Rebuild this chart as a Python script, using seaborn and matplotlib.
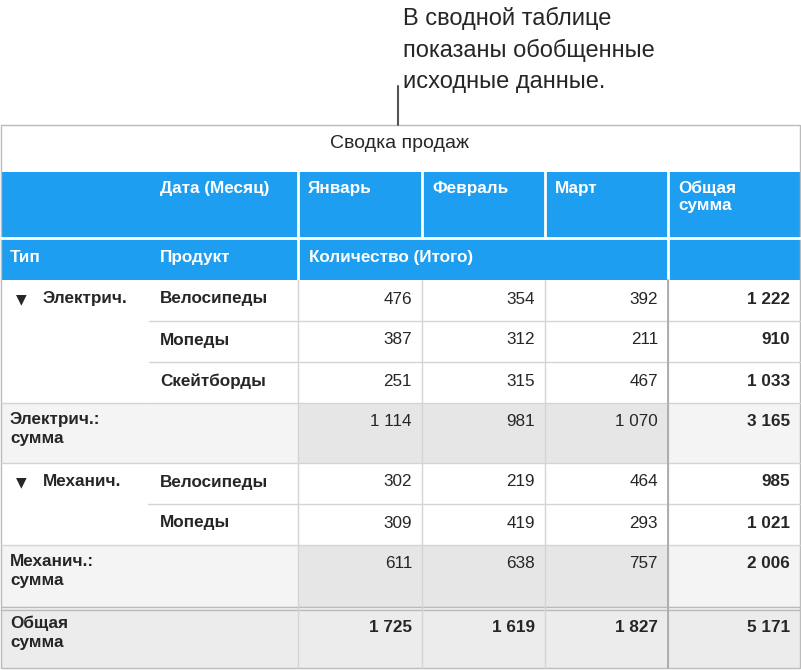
import matplotlib.pyplot as plt
import matplotlib.patches as patches
import seaborn as sns

sns.set_theme(style="white")
plt.rcParams['font.family'] = ['Liberation Sans', 'DejaVu Sans']

# Data
title = "Сводка продаж"
caption = ["В сводной таблице", "показаны обобщенные", "исходные данные."]
months = ["Январь", "Февраль", "Март"]
total_label = "Общая\nсумма"
elec_products = ["Велосипеды", "Мопеды", "Скейтборды"]
elec_values = [[476, 354, 392], [387, 312, 211], [251, 315, 467]]
elec_totals = [1222, 910, 1033]
elec_sum = [1114, 981, 1070]
elec_sum_total = 3165
mech_products = ["Велосипеды", "Мопеды"]
mech_values = [[302, 219, 464], [309, 419, 293]]
mech_totals = [985, 1021]
mech_sum = [611, 638, 757]
mech_sum_total = 2006
grand = [1725, 1619, 1827]
grand_total = 5171

def fmt(v):
    return f"{v:,}".replace(",", "\u00a0")

blue = "#1e9ef0"
grid = "#d4d4d4"
light = "#f4f4f4"
mid = "#e6e6e6"
fs = 12.3

fig = plt.figure(figsize=(8.01, 6.70), dpi=100)
ax = fig.add_axes([0, 0, 1, 1])
ax.set_xlim(0, 801)
ax.set_ylim(670, 0)
ax.axis("off")

cols = [1, 148, 298, 422, 545, 668, 800]

def rect(x0, y0, x1, y1, color):
    ax.add_patch(patches.Rectangle((x0, y0), x1 - x0, y1 - y0, facecolor=color, edgecolor="none"))

def hline(y, x0=1, x1=800, c=grid, lw=1):
    ax.plot([x0, x1], [y, y], color=c, lw=lw)

def vline(x, y0, y1, c=grid, lw=1):
    ax.plot([x, x], [y0, y1], color=c, lw=lw)

# caption + leader
for i, line in enumerate(caption):
    ax.text(403, 18 + 32 * i, line, fontsize=17, va="center", ha="left")
vline(398, 86, 125, c="#555555", lw=1.5)

# title
ax.text(400, 143, title, fontsize=14, ha="center", va="center")

# header
rect(1, 172, 800, 280, blue)
for x in cols[2:6]:
    vline(x, 172, 238, c="white", lw=2)
hline(238, c="white", lw=2)
vline(298, 238, 280, c="white", lw=2)
vline(668, 238, 280, c="white", lw=2)
hw = dict(color="white", fontsize=fs, fontweight="bold", va="top")
ax.text(160, 181, "Дата (Месяц)", **hw)
for i, m in enumerate(months):
    ax.text(cols[2 + i] + 10, 181, m, **hw)
ax.text(678, 181, "Общая\nсумма", linespacing=1.15, **hw)
ax.text(10, 250, "Тип", **hw)
ax.text(160, 250, "Продукт", **hw)
ax.text(309, 250, "Количество (Итого)", **hw)

def num_row(y0, y1, vals, tot, bold=False):
    for i, v in enumerate(vals):
        ax.text(cols[3 + i] - 10, y0 + 19, fmt(v), fontsize=fs, ha="right", va="center",
                fontweight="bold" if bold else "normal")
    ax.text(790, y0 + 19, fmt(tot), fontsize=fs, ha="right", va="center", fontweight="bold")

def group(y, name, products, values, totals, sums, sum_total, heights, sum_h):
    ys = y
    for j, (p, v, t) in enumerate(zip(products, values, totals)):
        y1 = ys + heights
        ax.text(160, ys + 19, p, fontsize=fs, fontweight="bold", va="center")
        num_row(ys, y1, v, t)
        if j > 0:
            hline(ys, 148, 800)
        ys = y1
    ax.text(16, y + 19, "▼", fontsize=10, va="center", family="DejaVu Sans")
    ax.text(43, y + 19, name, fontsize=fs, fontweight="bold", va="center")
    rect(1, ys, 298, ys + sum_h, light)
    rect(298, ys, 668, ys + sum_h, mid)
    rect(668, ys, 800, ys + sum_h, light)
    hline(ys)
    ax.text(10, ys + 9, name + ":\nсумма", fontsize=fs, fontweight="bold", va="top", linespacing=1.3)
    num_row(ys, ys + sum_h, sums, sum_total)
    hline(ys + sum_h)
    return ys + sum_h

y = group(280, "Электрич.", elec_products, elec_values, elec_totals, elec_sum, elec_sum_total, 41, 60)
y = group(y, "Механич.", mech_products, mech_values, mech_totals, mech_sum, mech_sum_total, 41, 62)

# grand total
rect(1, y + 2, 800, 668, "#ececec")
hline(y, c="#bbbbbb")
hline(y + 3, c="#bbbbbb")
ax.text(10, y + 9, total_label, fontsize=fs, fontweight="bold", va="top", linespacing=1.3)
num_row(y + 2, 668, grand, grand_total, bold=True)

# vertical grid
for x in cols[2:6]:
    vline(x, 280, 668)
vline(668, 280, 668, c="#aaaaaa", lw=1.3)
vline(148, 280, 402, c="white")

# outer border
ax.add_patch(patches.Rectangle((1, 125), 799, 543, facecolor="none", edgecolor="#bbbbbb", lw=1))

fig.savefig("out.png", dpi=100)
